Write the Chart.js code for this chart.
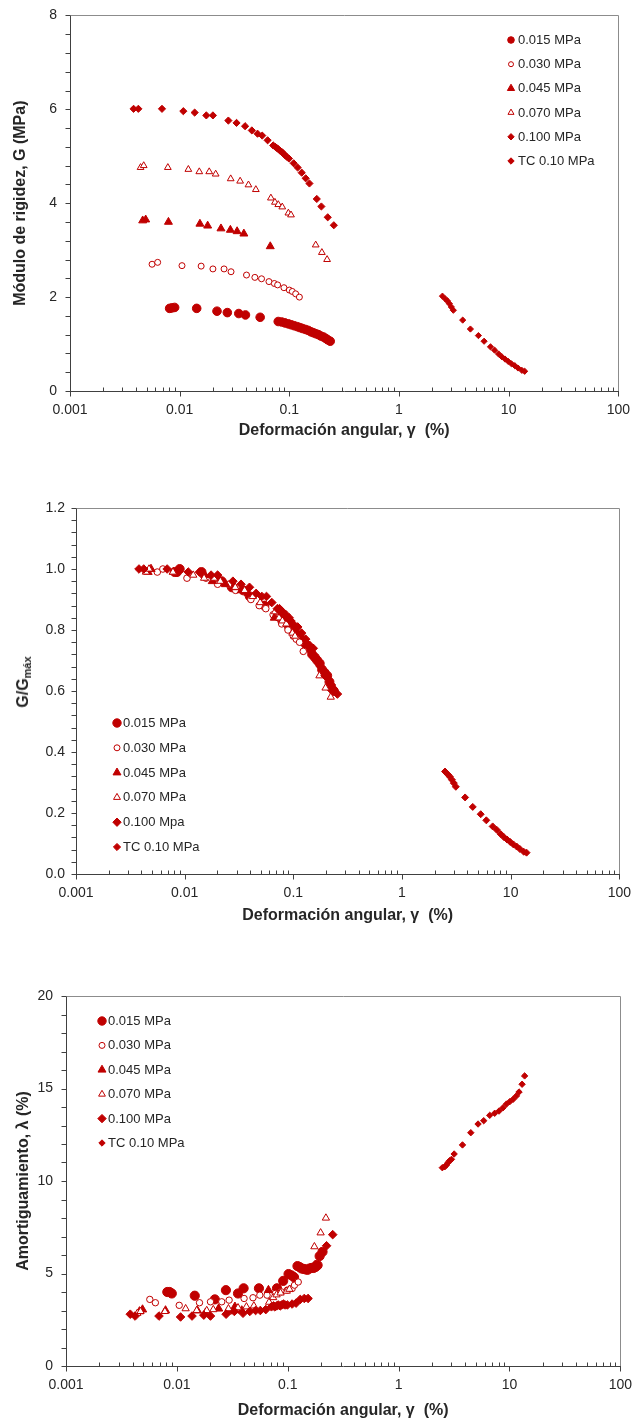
<!DOCTYPE html>
<html>
<head>
<meta charset="utf-8">
<script src="https://cdn.jsdelivr.net/npm/chart.js@4/dist/chart.umd.min.js"></script>
<style>
html,body{margin:0;padding:0;background:#fff;}
body{width:634px;height:1422px;position:relative;overflow:hidden;font-family:"Liberation Sans",Arial,sans-serif;}
.wrap{position:absolute;left:0;}
canvas{display:block;}
#ytitle2{position:absolute;left:24px;top:682px;transform:translate(-50%,-50%) rotate(-90deg);font-weight:bold;font-size:16px;color:#262626;white-space:nowrap;line-height:1;}
#ytitle2 sub{font-size:11px;vertical-align:-3px;line-height:1;}
</style>
</head>
<body>
<div class="wrap" style="top:-6px;width:641px;height:451px"><canvas id="c1" width="641" height="451"></canvas></div>
<div class="wrap" style="top:460px;width:642px;height:470px"><canvas id="c2" width="642" height="470"></canvas></div>
<div class="wrap" style="top:940px;width:643px;height:482px"><canvas id="c3" width="643" height="482"></canvas></div>
<div id="ytitle2">G/G<sub>máx</sub></div>
<script>
// ---------------- DATA ----------------
const X_TICKS = [0.001, 0.01, 0.1, 1, 10, 100];
const X_TICK_LABELS = ['0.001', '0.01', '0.1', '1', '10', '100'];
const X_TITLE = 'Deformación angular, γ  (%)';

const Y1_TICKS = [0, 2, 4, 6, 8];
const Y1_TICK_LABELS = ['0', '2', '4', '6', '8'];
const Y1_TITLE = 'Módulo de rigidez, G (MPa)';
const Y2_TICKS = [0, 0.2, 0.4, 0.6, 0.8, 1.0, 1.2];
const Y2_TICK_LABELS = ['0.0', '0.2', '0.4', '0.6', '0.8', '1.0', '1.2'];
const Y3_TICKS = [0, 5, 10, 15, 20];
const Y3_TICK_LABELS = ['0', '5', '10', '15', '20'];
const Y3_TITLE = 'Amortiguamiento, λ (%)';

const LABELS_1 = ['0.015 MPa', '0.030 MPa', '0.045 MPa', '0.070 MPa', '0.100 MPa', 'TC 0.10 MPa'];
const LABELS_2 = ['0.015 MPa', '0.030 MPa', '0.045 MPa', '0.070 MPa', '0.100 Mpa', 'TC 0.10 MPa'];
const LABELS_3 = ['0.015 MPa', '0.030 MPa', '0.045 MPa', '0.070 MPa', '0.100 MPa', 'TC 0.10 MPa'];

// shear strain (%) for stiffness charts
const gam015 = [0.0081,0.0085,0.009,0.0143,0.0219,0.0272,0.0346,0.0398,0.0542,0.0792,0.0851,0.0913,0.098,0.1043,0.111,0.1183,0.1252,0.1324,0.141,0.149,0.158,0.166,0.175,0.184,0.194,0.205,0.215,0.224,0.236];
const gam030 = [0.0056,0.0063,0.0105,0.0157,0.0201,0.0254,0.0294,0.0407,0.0485,0.0558,0.0652,0.073,0.0782,0.0893,0.1,0.1064,0.1142,0.1235];
const gam045 = [0.0046,0.0049,0.0079,0.0153,0.018,0.0238,0.029,0.0334,0.0385,0.067];
const gam070 = [0.0044,0.0047,0.0078,0.012,0.0151,0.0186,0.0213,0.0292,0.0356,0.0424,0.0495,0.0679,0.0739,0.0793,0.0862,0.098,0.1036,0.174,0.198,0.221];
const gam100 = [0.0038,0.0042,0.0069,0.0108,0.0137,0.0175,0.0201,0.0278,0.033,0.0395,0.0455,0.0513,0.0566,0.0634,0.0713,0.0745,0.0765,0.0795,0.0822,0.0855,0.0881,0.0915,0.0946,0.0993,0.1096,0.119,0.1297,0.141,0.1525,0.178,0.196,0.224,0.2545];
const gamTC = [2.49,2.65,2.76,2.88,3.0,3.13,3.81,4.48,5.3,5.97,6.83,7.44,8.09,8.66,9.27,9.91,10.6,11.36,12.16,13.2,14.0];

// shear modulus G (MPa)
const G015 = [1.76,1.77,1.78,1.76,1.7,1.67,1.65,1.62,1.57,1.48,1.47,1.45,1.43,1.41,1.39,1.37,1.35,1.33,1.31,1.29,1.26,1.24,1.22,1.2,1.17,1.15,1.12,1.09,1.06];
const G030 = [2.7,2.74,2.67,2.66,2.6,2.6,2.54,2.47,2.42,2.39,2.33,2.29,2.26,2.2,2.15,2.12,2.07,2.0];
const G045 = [3.63,3.65,3.6,3.56,3.52,3.46,3.43,3.4,3.35,3.08];
const G070 = [4.76,4.8,4.76,4.72,4.67,4.67,4.62,4.52,4.47,4.39,4.29,4.11,4.02,3.97,3.92,3.79,3.75,3.11,2.95,2.8];
const G100 = [6.01,6.01,6.01,5.96,5.93,5.87,5.87,5.76,5.71,5.64,5.55,5.48,5.44,5.34,5.23,5.2,5.18,5.15,5.12,5.09,5.06,5.02,4.99,4.95,4.85,4.76,4.65,4.53,4.42,4.09,3.93,3.70,3.53];
const GTC = [2.02,1.96,1.92,1.86,1.79,1.72,1.51,1.32,1.18,1.06,0.94,0.87,0.79,0.73,0.68,0.63,0.58,0.54,0.49,0.44,0.42];

// G/Gmax
const R015 = [0.99,0.99,1.0,0.99,0.96,0.94,0.93,0.91,0.88,0.83,0.83,0.81,0.80,0.79,0.78,0.77,0.76,0.75,0.74,0.72,0.71,0.70,0.69,0.67,0.66,0.65,0.63,0.61,0.60];
const R030 = [0.99,1.0,0.97,0.97,0.95,0.95,0.93,0.90,0.88,0.87,0.85,0.84,0.82,0.80,0.78,0.77,0.76,0.73];
const R045 = [0.99,1.0,0.99,0.98,0.96,0.95,0.94,0.93,0.92,0.84];
const R070 = [0.99,1.0,0.99,0.98,0.97,0.97,0.96,0.94,0.93,0.91,0.89,0.86,0.84,0.83,0.82,0.79,0.78,0.65,0.61,0.58];
const R100 = [1.0,1.0,1.0,0.99,0.99,0.98,0.98,0.96,0.95,0.94,0.92,0.91,0.91,0.89,0.87,0.87,0.86,0.86,0.85,0.85,0.84,0.84,0.83,0.82,0.81,0.79,0.77,0.75,0.74,0.68,0.65,0.62,0.59];
const RTC = [0.336,0.326,0.319,0.309,0.298,0.286,0.251,0.22,0.196,0.176,0.156,0.145,0.131,0.121,0.113,0.105,0.097,0.09,0.082,0.073,0.07];

// damping chart: strain (%) and damping (%)
const dGam015 = [0.0082,0.0086,0.009,0.0145,0.022,0.0277,0.0356,0.04,0.055,0.08,0.091,0.1017,0.108,0.114,0.1224,0.128,0.133,0.139,0.145,0.151,0.157,0.164,0.171,0.178,0.186,0.194,0.206];
const D015 = [4.0,4.0,3.92,3.8,3.6,4.1,3.92,4.2,4.2,4.2,4.6,4.97,4.9,4.8,5.4,5.35,5.27,5.25,5.22,5.2,5.27,5.3,5.3,5.35,5.45,5.94,6.17];
const dGam030 = [0.0057,0.0064,0.0105,0.016,0.0201,0.0254,0.0296,0.0404,0.0486,0.056,0.0651,0.0771,0.0875,0.0991,0.1097,0.115,0.1244];
const D030 = [3.6,3.42,3.28,3.42,3.47,3.47,3.56,3.65,3.69,3.83,3.83,3.92,4.01,4.1,4.19,4.37,4.54];
const dGam045 = [0.0046,0.0049,0.0079,0.0153,0.018,0.0238,0.029,0.0334,0.0385,0.067];
const D045 = [2.95,3.05,3.0,3.0,2.85,3.1,2.95,3.2,3.0,4.1];
const dGam070 = [0.0044,0.0047,0.0078,0.012,0.0151,0.0186,0.0213,0.0292,0.0356,0.0424,0.0495,0.0679,0.0739,0.0793,0.0862,0.098,0.1036,0.174,0.198,0.221];
const D070 = [2.85,2.95,2.95,3.1,3.0,3.0,3.05,3.1,3.15,3.2,3.25,3.45,3.7,3.85,3.95,4.05,4.15,6.45,7.2,8.0];
const dGam100 = [0.0038,0.0042,0.0069,0.0108,0.0137,0.0175,0.0201,0.0278,0.033,0.0395,0.0455,0.0513,0.0566,0.0634,0.0713,0.0745,0.0765,0.0795,0.0822,0.0855,0.0881,0.0915,0.0946,0.0993,0.1096,0.119,0.1297,0.141,0.1525,0.178,0.196,0.224,0.2545];
const D100 = [2.8,2.7,2.7,2.65,2.7,2.75,2.7,2.8,2.95,2.85,2.95,3.0,3.0,3.05,3.2,3.25,3.2,3.25,3.3,3.25,3.3,3.35,3.3,3.3,3.35,3.4,3.6,3.65,3.65,5.5,6.0,6.5,7.1];
const dGamTC = [2.48,2.61,2.70,2.79,2.89,3.0,3.17,3.77,4.48,5.21,5.86,6.64,7.36,8.05,8.75,9.4,10.07,10.8,11.56,12.2,13.0,13.7];
const DTC = [10.72,10.77,10.86,10.99,11.1,11.17,11.46,11.95,12.61,13.08,13.26,13.55,13.66,13.78,13.96,14.16,14.29,14.42,14.6,14.81,15.23,15.68];

// ---------------- STYLE / HELPERS ----------------
const RED = '#C00000';
const AXIS = '#404040';
const FRAME = '#8C8C8C';
const TXT = '#262626';
const FONT = "'Liberation Sans', Arial, Helvetica, sans-serif";

function markerPath(ctx, style, r, x, y) {
  ctx.beginPath();
  if (style === 'circle') {
    ctx.arc(x, y, r, 0, Math.PI * 2);
  } else if (style === 'triangle') {
    for (let k = 0; k < 3; k++) {
      const a = k * 2 * Math.PI / 3;
      const px = x + Math.sin(a) * r, py = y - Math.cos(a) * r;
      if (k === 0) ctx.moveTo(px, py); else ctx.lineTo(px, py);
    }
  } else {
    ctx.moveTo(x, y - r); ctx.lineTo(x + r, y); ctx.lineTo(x, y + r); ctx.lineTo(x - r, y);
  }
  ctx.closePath();
}

const excelAxes = {
  id: 'excelAxes',
  beforeDatasetsDraw(chart, args, o) {
    const ctx = chart.ctx, a = chart.chartArea, xs = chart.scales.x, ys = chart.scales.y;
    ctx.save();
    ctx.lineWidth = 1;
    ctx.strokeStyle = FRAME;
    ctx.beginPath();
    const T = Math.round(a.top) + 0.5, R = Math.round(a.right) + 0.5;
    ctx.moveTo(a.left, T); ctx.lineTo(R, T); ctx.lineTo(R, a.bottom);
    ctx.stroke();
    ctx.strokeStyle = AXIS;
    ctx.beginPath();
    const B = Math.round(a.bottom) + 0.5, L = Math.round(a.left) + 0.5;
    for (let e = -3; e <= 2; e++) {
      for (let m = 1; m <= 9; m++) {
        const v = m * Math.pow(10, e);
        if (v > 100.0001) break;
        const px = Math.round(xs.getPixelForValue(v)) + 0.5;
        if (m === 1) { ctx.moveTo(px, B - o.majorIn); ctx.lineTo(px, B + o.majorOut); }
        else { ctx.moveTo(px, B); ctx.lineTo(px, B - o.minorIn); }
      }
    }
    const n = Math.round((ys.max - ys.min) / o.yMinor);
    for (let k = 0; k <= n; k++) {
      const v = ys.min + k * o.yMinor;
      const py = Math.round(ys.getPixelForValue(v)) + 0.5;
      ctx.moveTo(L - o.yTickLen, py); ctx.lineTo(L, py);
    }
    ctx.stroke();
    ctx.restore();
  }
};

const insideLegend = {
  id: 'insideLegend',
  afterDraw(chart, args, o) {
    const ctx = chart.ctx;
    ctx.save();
    chart.data.datasets.forEach((ds, i) => {
      const y = o.y0 + i * o.dy;
      markerPath(ctx, ds.pointStyle, ds.legendRadius, o.x, y);
      ctx.fillStyle = ds.pointBackgroundColor;
      ctx.fill();
      ctx.lineWidth = 1;
      ctx.strokeStyle = RED;
      ctx.stroke();
      ctx.fillStyle = TXT;
      ctx.font = '13px ' + FONT;
      ctx.textAlign = 'left';
      ctx.textBaseline = 'middle';
      ctx.fillText(ds.label, o.x + o.dx, y + 0.5);
    });
    ctx.restore();
  }
};

function makeChart(id, cfg) {
  const datasets = cfg.series.map((s, i) => ({
    label: s.label,
    data: s.x.map((v, k) => ({ x: v, y: s.y[k] })),
    pointStyle: s.style,
    pointRadius: s.r,
    legendRadius: s.lr || s.r,
    pointBorderWidth: 1,
    pointBackgroundColor: s.open ? '#FFFFFF' : RED,
    pointBorderColor: RED,
    backgroundColor: s.open ? '#FFFFFF' : RED,
    borderColor: RED,
    showLine: false,
    order: cfg.series.length - i
  }));
  return new Chart(document.getElementById(id), {
    type: 'scatter',
    data: { datasets },
    options: {
      responsive: false,
      maintainAspectRatio: false,
      animation: false,
      devicePixelRatio: 1,
      events: [],
      layout: { padding: { left: 0, right: cfg.padRight, top: cfg.padTop, bottom: 0 } },
      plugins: {
        legend: { display: false },
        tooltip: { enabled: false },
        excelAxes: { yMinor: cfg.yMinor, yTickLen: 5, majorIn: 0, majorOut: 5, minorIn: 4 },
        insideLegend: cfg.legend
      },
      scales: {
        x: {
          type: 'logarithmic', min: 0.001, max: 100,
          grid: { display: false, drawTicks: false },
          border: { display: true, color: AXIS, width: 1 },
          afterBuildTicks: s => { s.ticks = X_TICKS.map(v => ({ value: v })); },
          ticks: {
            callback: (v, i) => X_TICK_LABELS[i],
            font: { family: FONT, size: 14 }, color: TXT, padding: cfg.xTickPad,
            autoSkip: false, maxRotation: 0, minRotation: 0
          },
          title: {
            display: true, text: X_TITLE, color: TXT,
            font: { family: FONT, size: 16, weight: 'bold' },
            padding: { top: 0, bottom: cfg.xTitlePad }
          },
          afterFit: s => { s.height = cfg.xAxisH; }
        },
        y: {
          type: 'linear', min: cfg.yTicks[0], max: cfg.yTicks[cfg.yTicks.length - 1],
          grid: { display: false, drawTicks: false },
          border: { display: true, color: AXIS, width: 1 },
          afterBuildTicks: s => { s.ticks = cfg.yTicks.map(v => ({ value: v })); },
          ticks: {
            callback: (v, i) => cfg.yLabels[i],
            font: { family: FONT, size: 14 }, color: TXT, padding: cfg.yTickPad
          },
          title: {
            display: !!cfg.yTitle, text: cfg.yTitle || '', color: TXT,
            font: { family: FONT, size: 16, weight: 'bold' },
            padding: { top: cfg.yTitlePad, bottom: 0 }
          },
          afterFit: s => { s.width = cfg.yAxisW; }
        }
      }
    },
    plugins: [excelAxes, insideLegend]
  });
}

// ---------------- CHART 1: G ----------------
makeChart('c1', {
  padTop: 20, padRight: 16, xAxisH: 54, yAxisW: 70,
  xTickPad: 11, xTitlePad: 5, yTickPad: 13, yTitlePad: 11,
  yTicks: Y1_TICKS, yLabels: Y1_TICK_LABELS, yTitle: Y1_TITLE, yMinor: 0.4,
  legend: { x: 511, y0: 46, dy: 24.2, dx: 7 },
  series: [
    { label: LABELS_1[0], x: gam015, y: G015, style: 'circle', r: 4.3, lr: 3.3 },
    { label: LABELS_1[1], x: gam030, y: G030, style: 'circle', r: 3, lr: 2.5, open: true },
    { label: LABELS_1[2], x: gam045, y: G045, style: 'triangle', r: 4.6, lr: 4.2 },
    { label: LABELS_1[3], x: gam070, y: G070, style: 'triangle', r: 3.9, lr: 3.5, open: true },
    { label: LABELS_1[4], x: gam100, y: G100, style: 'rectRot', r: 3.6, lr: 3.2 },
    { label: LABELS_1[5], x: gamTC, y: GTC, style: 'rectRot', r: 3.1, lr: 3.2 }
  ]
});

// ---------------- CHART 2: G/Gmax ----------------
makeChart('c2', {
  padTop: 48, padRight: 15, xAxisH: 56, yAxisW: 76,
  xTickPad: 11, xTitlePad: 5, yTickPad: 11, yTitlePad: 10,
  yTicks: Y2_TICKS, yLabels: Y2_TICK_LABELS, yTitle: null, yMinor: 0.04,
  legend: { x: 117, y0: 263, dy: 24.8, dx: 6 },
  series: [
    { label: LABELS_2[0], x: gam015, y: R015, style: 'circle', r: 4.5, lr: 4.2 },
    { label: LABELS_2[1], x: gam030, y: R030, style: 'circle', r: 3.3, lr: 3, open: true },
    { label: LABELS_2[2], x: gam045, y: R045, style: 'triangle', r: 4.8, lr: 4.6 },
    { label: LABELS_2[3], x: gam070, y: R070, style: 'triangle', r: 4.2, lr: 4, open: true },
    { label: LABELS_2[4], x: gam100, y: R100, style: 'rectRot', r: 4.3, lr: 4.2 },
    { label: LABELS_2[5], x: gamTC, y: RTC, style: 'rectRot', r: 3.5, lr: 3.6 }
  ]
});

// ---------------- CHART 3: damping ----------------
makeChart('c3', {
  padTop: 56, padRight: 14, xAxisH: 56, yAxisW: 66,
  xTickPad: 11, xTitlePad: 2, yTickPad: 13, yTitlePad: 14,
  yTicks: Y3_TICKS, yLabels: Y3_TICK_LABELS, yTitle: Y3_TITLE, yMinor: 1,
  legend: { x: 102, y0: 81, dy: 24.4, dx: 6 },
  series: [
    { label: LABELS_3[0], x: dGam015, y: D015, style: 'circle', r: 4.6, lr: 4.2 },
    { label: LABELS_3[1], x: dGam030, y: D030, style: 'circle', r: 3.2, lr: 3, open: true },
    { label: LABELS_3[2], x: dGam045, y: D045, style: 'triangle', r: 4.8, lr: 4.6 },
    { label: LABELS_3[3], x: dGam070, y: D070, style: 'triangle', r: 4.2, lr: 3.9, open: true },
    { label: LABELS_3[4], x: dGam100, y: D100, style: 'rectRot', r: 4.3, lr: 4.2 },
    { label: LABELS_3[5], x: dGamTC, y: DTC, style: 'rectRot', r: 3.2, lr: 3.2 }
  ]
});
</script>
</body>
</html>
